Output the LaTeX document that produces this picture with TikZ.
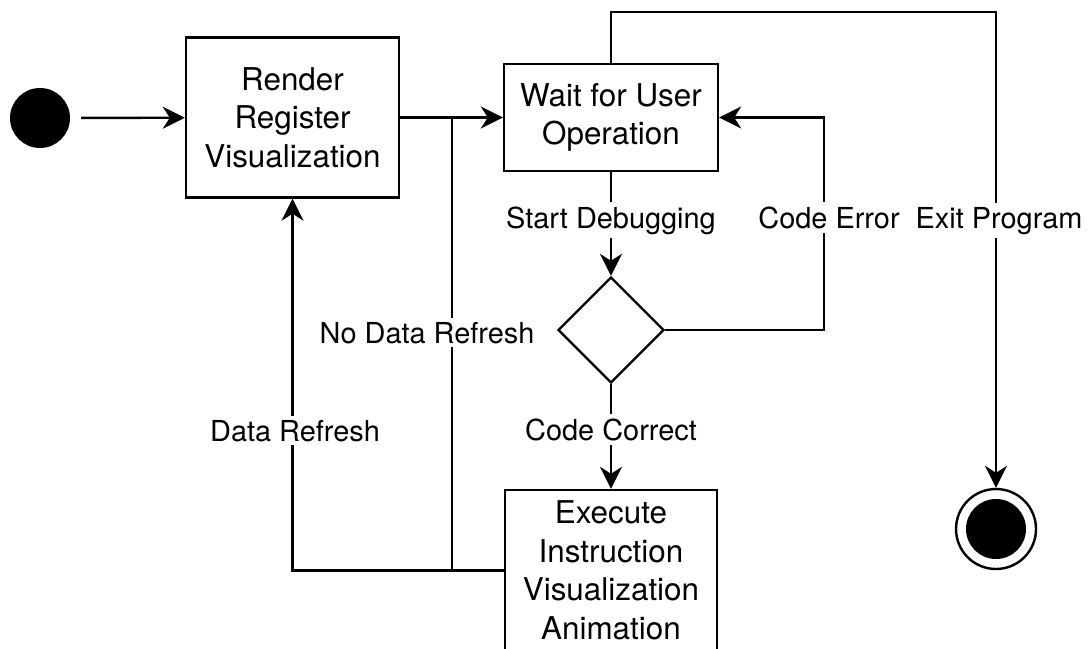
\documentclass[tikz,border=0pt]{standalone}
\usepackage{fontspec}
\setmainfont{TeX Gyre Heros}
\usetikzlibrary{shapes.geometric,arrows.meta}
\newcommand\stateFont{\fontsize{31.4}{38.5}\selectfont}
\newcommand\edgeFont{\fontsize{28.9}{34}\selectfont}
\begin{document}
\begin{tikzpicture}[x=1pt,y=-1pt,line width=2.4pt,
  state/.style={draw, rectangle, align=center, inner sep=0pt, font=\stateFont},
  decision/.style={draw, diamond, aspect=1, inner sep=0pt, minimum width=106pt, minimum height=106pt},
  flow/.style={-{Stealth[length=22pt,width=22pt,inset=7pt]}},
  edgelabel/.style={fill=white, inner sep=4pt, anchor=base, font=\edgeFont}]
\useasboundingbox (0,0) rectangle (1089,648);

% activity nodes
\node[circle, fill=black, inner sep=0pt, minimum size=60pt] (start) at (40,118) {};
\node[state, minimum width=213pt, minimum height=160pt] (render) at (292.5,117.5)
  {Render\\Register\\Visualization};
\node[state, minimum width=214pt, minimum height=107pt] (wait) at (611,117.5)
  {Wait for User\\Operation};
\node[decision] (check) at (611,330) {};
\node[state, minimum width=212pt, minimum height=161pt] (exec) at (611,570.5)
  {Execute\\Instruction\\Visualization\\Animation};
\node[circle, draw, inner sep=0pt, minimum size=80pt] (final) at (996,529) {};
\node[circle, fill=black, inner sep=0pt, minimum size=60pt] (finalDot) at (final.center) {};

% routing points
\coordinate (topY) at (0,12);
\coordinate (errX) at (824,0);
\coordinate (joinX) at (452,0);

% connectors
\draw[flow, shorten <=10pt] (start) -- (render);
\draw[flow] (render) -- (wait);
\draw[flow] (wait) -- (check);
\draw[flow] (check) -- (exec);
\draw[flow] (check.east) -- (check.east -| errX) |- (wait.east);
\draw[flow] (wait.north) -- (wait.north |- topY) -| (final.north);
\draw[flow] (exec.west) -| (render.south);
\draw (exec.west -| joinX) -- (render.east -| joinX);

% connector labels
\node[edgelabel] (lStart) at (611,228) {Start Debugging};
\node[edgelabel] (lError) at (829,228) {Code Error};
\node[edgelabel] (lExit) at (999,228) {Exit Program};
\node[edgelabel] (lNoData) at (427,343) {No Data Refresh};
\node[edgelabel] (lData) at (295,441) {Data Refresh};
\node[edgelabel] (lCorrect) at (611,440) {Code Correct};
\end{tikzpicture}
\end{document}
